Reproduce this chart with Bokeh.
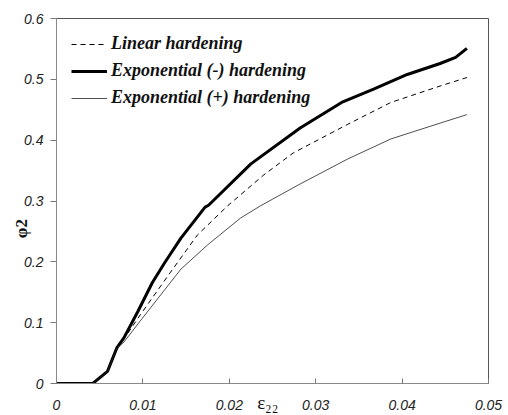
from bokeh.plotting import figure
from bokeh.models import Legend, LegendItem, FixedTicker
from bokeh.embed import file_html
from bokeh.resources import INLINE

# strain eps22 (x) and phi2 (y) for the three hardening laws
lin_x = [0.0, 0.0042, 0.0059, 0.0070, 0.0078, 0.0097, 0.0132, 0.0163, 0.0198, 0.0240, 0.0274, 0.0337, 0.0387, 0.0444, 0.0475]
lin_y = [0.0, 0.0, 0.020, 0.059, 0.073, 0.113, 0.183, 0.244, 0.292, 0.343, 0.379, 0.426, 0.462, 0.489, 0.503]

expm_x = [0.0, 0.0042, 0.0059, 0.0070, 0.0078, 0.0094, 0.0111, 0.0125, 0.0144, 0.0167, 0.0172, 0.0176, 0.0225, 0.0282, 0.0330, 0.0367, 0.0406, 0.0444, 0.0462, 0.0475]
expm_y = [0.0, 0.0, 0.020, 0.059, 0.075, 0.118, 0.166, 0.198, 0.239, 0.281, 0.290, 0.293, 0.361, 0.420, 0.462, 0.484, 0.508, 0.526, 0.536, 0.551]

expp_x = [0.0, 0.0042, 0.0059, 0.0070, 0.0078, 0.0097, 0.0144, 0.0175, 0.0213, 0.0236, 0.0282, 0.0337, 0.0387, 0.0444, 0.0475]
expp_y = [0.0, 0.0, 0.020, 0.058, 0.068, 0.103, 0.188, 0.228, 0.272, 0.292, 0.328, 0.369, 0.402, 0.428, 0.442]

x_ticks = [0.0, 0.01, 0.02, 0.03, 0.04, 0.05]
x_tick_labels = ["0", "0.01", "0.02", "0.03", "0.04", "0.05"]
y_ticks = [0.0, 0.1, 0.2, 0.3, 0.4, 0.5, 0.6]
y_tick_labels = ["0", "0.1", "0.2", "0.3", "0.4", "0.5", "0.6"]

series_names = ["Linear hardening", "Exponential (-) hardening", "Exponential (+) hardening"]

p = figure(width=508, height=415, output_backend="svg", toolbar_location=None,
           x_range=(0, 0.05), y_range=(0, 0.6),
           min_border_left=56, min_border_right=20, min_border_top=18, min_border_bottom=32)
p.background_fill_color = "white"
p.border_fill_color = "white"
p.grid.visible = False
p.outline_line_color = "#555555"
p.outline_line_width = 1

r1 = p.line(lin_x, lin_y, line_color="black", line_width=1, line_dash="5 4")
r2 = p.line(expm_x, expm_y, line_color="black", line_width=3)
r3 = p.line(expp_x, expp_y, line_color="#222222", line_width=0.8)

p.xaxis.ticker = FixedTicker(ticks=x_ticks)
p.xaxis.major_label_overrides = {t: s for t, s in zip(x_ticks, x_tick_labels)}
p.yaxis.ticker = FixedTicker(ticks=y_ticks)
p.yaxis.major_label_overrides = {t: s for t, s in zip(y_ticks, y_tick_labels)}

for ax in (p.xaxis[0], p.yaxis[0]):
    ax.axis_line_color = "#888888"
    ax.major_tick_line_color = "#777777"
    ax.minor_tick_line_color = None
    ax.major_label_text_font = "Liberation Sans"
    ax.major_label_text_font_style = "italic"
    ax.major_label_text_font_size = "14px"
    ax.major_label_text_color = "#222222"
    ax.axis_label_text_color = "#111111"

p.xaxis.major_tick_in = 5
p.xaxis.major_tick_out = 0
p.xaxis.major_label_standoff = 16
p.yaxis.major_tick_in = 0
p.yaxis.major_tick_out = 6
p.yaxis.major_label_standoff = 7

p.xaxis.axis_label = "\u03b5\u2082\u2082\u2002"
p.xaxis.axis_label_text_font = "Liberation Serif"
p.xaxis.axis_label_text_font_style = "normal"
p.xaxis.axis_label_text_font_size = "19px"
p.xaxis.axis_label_standoff = -21

p.yaxis.axis_label = "\u03c62" + "\u00a0" * 13
p.yaxis.axis_label_text_font = "Liberation Serif"
p.yaxis.axis_label_text_font_style = "bold"
p.yaxis.axis_label_text_font_size = "17px"
p.yaxis.axis_label_standoff = -10

legend = Legend(items=[LegendItem(label=series_names[0], renderers=[r1]),
                       LegendItem(label=series_names[1], renderers=[r2]),
                       LegendItem(label=series_names[2], renderers=[r3])],
                location="top_left", margin=15, padding=0, spacing=6,
                glyph_width=36, glyph_height=20, label_height=20, label_standoff=4,
                border_line_color=None, background_fill_alpha=0,
                label_text_font="Liberation Serif", label_text_font_style="bold italic",
                label_text_font_size="18px", label_text_color="#111111")
p.add_layout(legend)

open("out.html", "w").write(file_html(p, INLINE))
